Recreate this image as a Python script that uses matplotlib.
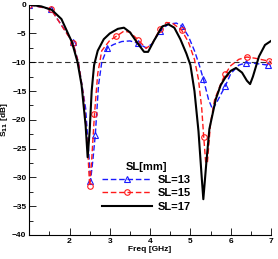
import matplotlib
matplotlib.use("Agg")
import matplotlib.pyplot as plt
from matplotlib.ticker import MultipleLocator

plt.rcParams["font.family"] = ["Liberation Sans", "DejaVu Sans"]

# SL = 13 mm
f13 = [1.0, 1.54, 2.08, 2.22, 2.4, 2.48, 2.52, 2.58, 2.64, 2.72, 2.8, 2.94, 3.1, 3.3, 3.5,
       3.7, 3.9, 4.05, 4.24, 4.45, 4.65, 4.79, 4.95, 5.1, 5.22, 5.32, 5.45, 5.55, 5.65,
       5.86, 6.0, 6.2, 6.38, 6.6, 6.93, 7.0]
s13 = [0.0, -0.8, -6.5, -10.0, -18.0, -26.0, -30.7, -27.0, -22.6, -14.0, -10.0, -7.5, -6.9, -6.4, -6.3,
       -6.7, -7.5, -6.8, -4.6, -3.4, -3.2, -3.7, -5.5, -8.0, -10.5, -12.9, -16.5, -18.2, -17.0,
       -14.2, -12.0, -10.5, -10.1, -10.2, -10.5, -10.6]
m13 = [0, 1, 2, 6, 8, 11, 15, 18, 21, 25, 29, 32, 34]

# SL = 15 mm
f15 = [1.0, 1.54, 2.08, 2.22, 2.35, 2.45, 2.5, 2.55, 2.62, 2.7, 2.8, 3.0, 3.16, 3.35, 3.5,
       3.7, 3.9, 4.05, 4.24, 4.4, 4.55, 4.78, 4.95, 5.1, 5.2, 5.28, 5.33, 5.38, 5.42, 5.5,
       5.6, 5.75, 5.86, 6.0, 6.2, 6.4, 6.6, 6.94, 7.0]
s15 = [0.0, -0.8, -6.6, -10.0, -16.0, -25.0, -31.5, -27.0, -19.0, -12.0, -8.0, -6.2, -5.5, -4.6, -4.8,
       -6.1, -7.6, -6.8, -4.3, -3.1, -3.2, -4.4, -6.5, -9.5, -13.0, -18.0, -23.0, -27.5, -27.5, -20.5,
       -16.5, -13.8, -12.1, -10.6, -9.5, -9.1, -9.3, -9.8, -9.9]
m15 = [0, 1, 2, 6, 8, 12, 15, 18, 21, 26, 32, 35, 37]

# SL = 17 mm
f17 = [1.0, 1.3, 1.56, 1.8, 2.06, 2.2, 2.3, 2.4, 2.45, 2.5, 2.55, 2.61, 2.7, 2.85, 3.0, 3.2,
       3.35, 3.5, 3.7, 3.85, 3.95, 4.1, 4.3, 4.45, 4.6, 4.75, 4.9, 5.0, 5.1, 5.2, 5.28, 5.32,
       5.4, 5.47, 5.63, 5.75, 5.88, 6.0, 6.13, 6.28, 6.4, 6.48, 6.55, 6.7, 6.85, 7.0]
s17 = [0.0, -0.3, -0.9, -2.5, -6.5, -10.0, -14.0, -21.0, -26.5, -22.0, -15.0, -10.5, -8.0, -6.0, -5.0, -4.2,
       -4.0, -4.8, -6.8, -8.2, -8.2, -6.2, -3.8, -3.4, -4.0, -6.0, -8.5, -10.5, -15.0, -22.0, -30.0, -33.8,
       -27.0, -21.6, -16.4, -14.0, -12.5, -11.5, -11.0, -11.8, -13.2, -13.8, -12.5, -9.0, -7.0, -6.3]

ref_level = -10
xlim = (1, 7)
ylim = (-40, 0)

fig = plt.figure(figsize=(2.78, 2.59), dpi=100)
ax = fig.add_axes([0.105, 0.093, 0.870, 0.889])

ax.axhline(ref_level, color="#333333", ls=(0, (5, 3)), lw=0.8, zorder=1)
ax.plot(f13, s13, color="#1a1aff", ls=(0, (4, 2)), lw=1.0, marker="^", ms=4,
        mfc="none", mec="#1a1aff", mew=0.8, markevery=m13, label="SL=13")
ax.plot(f15, s15, color="#ff1a1a", ls=(0, (4, 2)), lw=1.0, marker="o", ms=4,
        mfc="none", mec="#ff1a1a", mew=0.8, markevery=m15, label="SL=15")
ax.plot(f17, s17, color="black", ls="-", lw=1.5, label="SL=17")

ax.set_xlim(*xlim)
ax.set_ylim(*ylim)
ax.xaxis.set_minor_locator(MultipleLocator(0.5))
ax.yaxis.set_major_locator(MultipleLocator(5))
ax.yaxis.set_minor_locator(MultipleLocator(2.5))
ax.set_xticks([2, 3, 4, 5, 6, 7])
ax.tick_params(which="both", direction="in", labelsize=6, pad=2)
ax.tick_params(which="major", length=5, width=0.6)
ax.tick_params(which="minor", length=3, width=0.6)
for lab in ax.get_xticklabels() + ax.get_yticklabels():
    lab.set_fontweight("bold")
ax.spines["top"].set_visible(False)
ax.spines["right"].set_visible(False)

ax.set_xlabel("Freq [GHz]", fontsize=6, fontweight="bold", labelpad=1)
ax.set_ylabel(r"S$_{\mathbf{11}}$ [dB]", fontsize=6, fontweight="bold")
ax.yaxis.set_label_coords(-0.078, 0.5)

leg = ax.legend(title="SL[mm]", loc="center", bbox_to_anchor=(0.485, 0.21), frameon=False,
                handlelength=4.5, handletextpad=0.5, labelspacing=0.3,
                prop={"weight": "bold", "size": 8}, title_fontsize=8)
leg.get_title().set_fontweight("bold")

fig.savefig("out.png", dpi=100)
